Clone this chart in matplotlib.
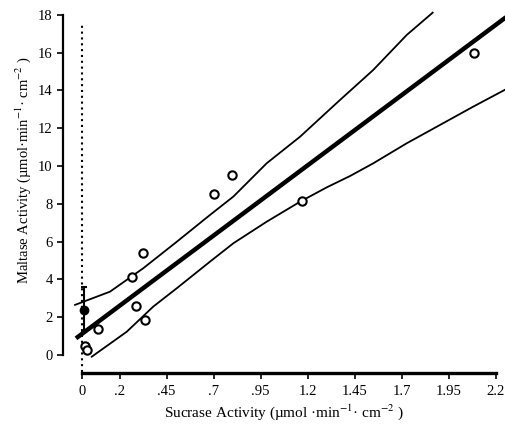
import numpy as np
import matplotlib
matplotlib.use('Agg')
import matplotlib.pyplot as plt

plt.rcParams['font.family'] = ['Liberation Serif', 'DejaVu Serif']
plt.rcParams['mathtext.fontset'] = 'stix'

# open circles
sucrase = [2.085, 0.80, 0.70, 1.17, 0.325, 0.264, 0.289, 0.337, 0.087, 0.016, 0.025]
maltase = [16.0, 9.52, 8.53, 8.16, 5.4, 4.1, 2.6, 1.85, 1.4, 0.5, 0.25]

# filled mean point with error bar
mean_x = [0.01]
mean_y = [2.4]
mean_err = [1.2]

# regression line ends
reg_x = [-0.032, 2.255]
reg_y = [0.88, 17.87]

# confidence band
up_x = [-0.037, 0.149, 0.326, 0.504, 0.681, 0.805, 0.982, 1.160, 1.372, 1.549, 1.727, 1.865]
up_y = [2.65, 3.35, 4.59, 5.99, 7.41, 8.38, 10.14, 11.55, 13.49, 15.08, 16.93, 18.11]
lo_x = [0.052, 0.238, 0.379, 0.504, 0.681, 0.805, 0.982, 1.160, 1.302, 1.426, 1.549, 1.727, 1.904, 2.081, 2.255]
lo_y = [-0.09, 1.23, 2.56, 3.53, 4.94, 5.91, 7.05, 8.11, 8.87, 9.47, 10.14, 11.20, 12.17, 13.14, 14.06]

xticks = [0, 0.2, 0.45, 0.7, 0.95, 1.2, 1.45, 1.7, 1.95, 2.2]
xlabels = ['0', '.2', '.45', '.7', '.95', '1.2', '1.45', '1.7', '1.95', '2.2']
yticks = [0, 2, 4, 6, 8, 10, 12, 14, 16, 18]

fig = plt.figure(figsize=(5.06, 4.30), dpi=100)
ax = fig.add_axes([0.1245, 0.1326, 0.8755, 0.8441])
ax.set_xlim(-0.101, 2.255)
ax.set_ylim(-0.952, 18.25)

ax.plot([0, 0], [-0.9, 17.5], color='black', linestyle=(0, (1, 1.8)), lw=1.5, zorder=1)
ax.plot(up_x, up_y, color='black', lw=1.3)
ax.plot(lo_x, lo_y, color='black', lw=1.3)
ax.plot(reg_x, reg_y, color='black', lw=3.2, solid_capstyle='butt')
ax.plot(sucrase, maltase, 'o', mfc='white', mec='black', ms=6, mew=1.5, zorder=3)
ax.errorbar(mean_x, mean_y, yerr=mean_err, fmt='o', color='black', ms=6,
            capsize=2.5, elinewidth=1.5, capthick=1.5, zorder=4)

for s in ['top', 'right']:
    ax.spines[s].set_visible(False)
ax.spines['left'].set_bounds(0, 18)
ax.spines['bottom'].set_bounds(0, 2.2)
ax.spines['left'].set_linewidth(1.6)
ax.spines['bottom'].set_linewidth(2.4)

ax.set_xticks(xticks)
ax.set_xticklabels(xlabels)
ax.set_yticks(yticks)
ax.tick_params(axis='both', direction='out', length=4, width=1.2, labelsize=10.5)
ax.tick_params(axis='x', pad=5)

ax.set_xlabel('Sucrase Activity (µmol ·min$^{-1}$· cm$^{-2}$ )', fontsize=11, labelpad=3)
ax.set_ylabel('Maltase Activity (µmol·min$^{-1}$· cm$^{-2}$ )', fontsize=10.5)
ax.yaxis.set_label_coords(-0.068, 0.559)

fig.savefig('out.png', dpi=100)
